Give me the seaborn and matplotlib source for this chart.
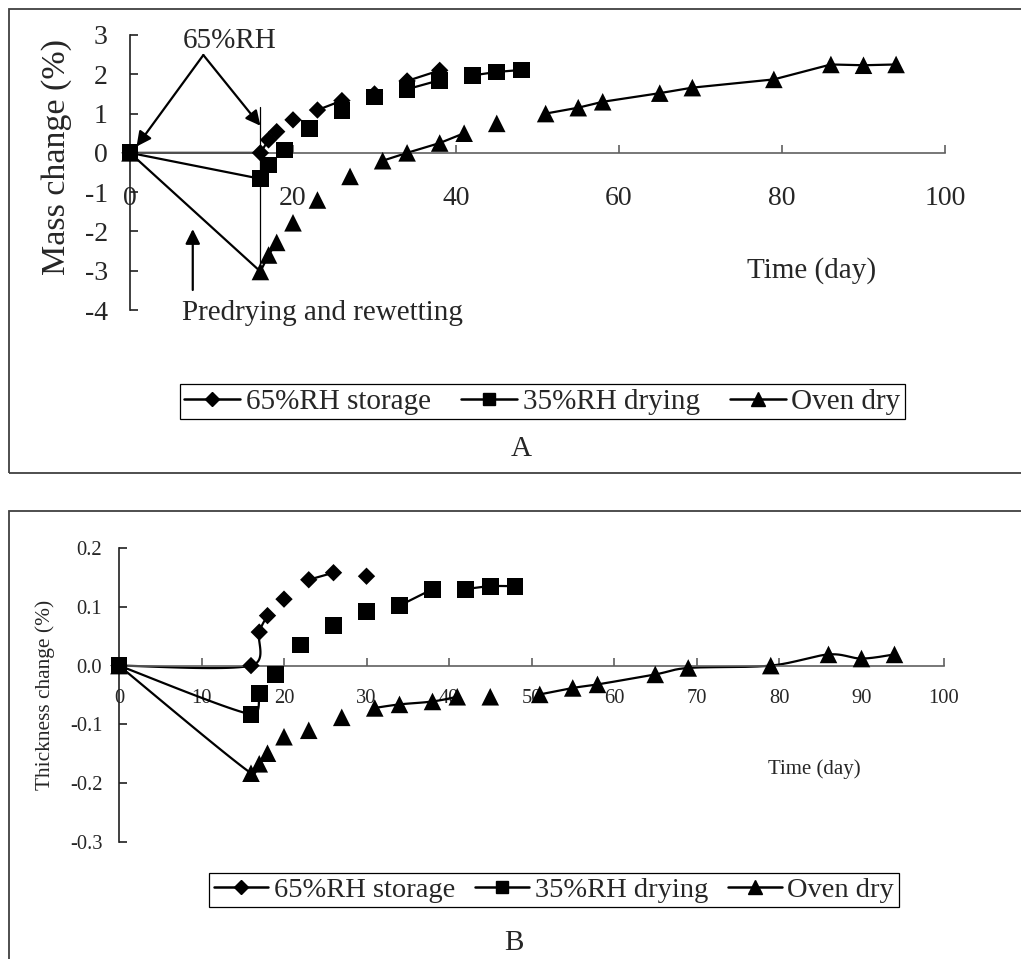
import numpy as np
import pandas as pd
import matplotlib
matplotlib.use('Agg')
import matplotlib.pyplot as plt
from matplotlib.lines import Line2D
from matplotlib.patches import Rectangle
from matplotlib.ticker import FormatStrFormatter
import seaborn as sns

nan = np.nan

# Shared time column (days). Blank cells (nan) break the lines, like in the sheet.
days = [0, 16, 17, 18, 19, 20, 22, 23, 26, 27, 30, 31, 34, 38, 41, 42, 45, 48,
        51, 55, 58, 65, 69, 79, 86, 90, 94]

series_names = ['65%RH storage', '35%RH drying', 'Oven dry']

# A: mass change (%)
mass_65 = [0, 0, 0.33, 0.54, nan, 0.84, nan, 1.09, 1.33, nan, 1.50, nan, 1.83, 2.10,
           nan, nan, nan, nan, nan, nan, nan, nan, nan, nan, nan, nan, nan]
mass_35 = [0, -0.66, -0.31, nan, 0.07, nan, 0.62, nan, 1.08, nan, 1.42, nan, 1.62, 1.85,
           nan, 1.97, 2.06, 2.11, nan, nan, nan, nan, nan, nan, nan, nan, nan]
mass_oven = [0, -3.02, -2.60, -2.28, nan, -1.78, nan, -1.20, nan, -0.60, nan, -0.20, 0.00, 0.25,
             0.50, nan, 0.75, nan, 1.00, 1.15, 1.30, 1.52, 1.66, 1.87, 2.25, 2.23, 2.25]

# B: thickness change (%)
thick_65 = [0, 0, 0.057, 0.085, nan, 0.113, nan, 0.146, 0.158, nan, 0.152, nan, nan, nan,
            nan, nan, nan, nan, nan, nan, nan, nan, nan, nan, nan, nan, nan]
thick_35 = [0, -0.083, -0.048, nan, -0.015, nan, 0.035, nan, 0.068, nan, 0.092, nan, 0.102, 0.130,
            nan, 0.130, 0.135, 0.135, nan, nan, nan, nan, nan, nan, nan, nan, nan]
thick_oven = [0, -0.183, -0.167, -0.149, nan, -0.121, nan, -0.110, nan, -0.088, nan, -0.072, -0.066, -0.061,
              -0.053, nan, -0.053, nan, -0.049, -0.038, -0.032, -0.015, -0.004, 0.000, 0.019, 0.012, 0.019]

markers = dict(zip(series_names, ['D', 's', '^']))
sizes = dict(zip(series_names, [78, 145, 160]))

sns.set_theme(style='white')
plt.rcParams['font.family'] = ['Liberation Serif', 'DejaVu Serif']
plt.rcParams['axes.unicode_minus'] = False

W, H = 1021, 959
fig = plt.figure(figsize=(W / 100, H / 100), dpi=100)


def fx(px):
    return px / W


def fy(py):
    return 1 - py / H


def clamp(v, seg):
    # keep the tangent from overshooting on very short segments
    n = np.hypot(*v)
    lim = 0.5 * np.hypot(*seg)
    return v * (lim / n) if n > lim and n > 0 else v


def smooth_run(xs, ys, sx, sy, n=24):
    # Excel-like smoothed line (Bezier with 1/6 tangents), computed in pixel space
    P = np.column_stack([np.asarray(xs) * sx, np.asarray(ys) * sy])
    out = [P[0]]
    t = np.linspace(0, 1, n)[1:, None]
    for i in range(len(P) - 1):
        p0, p1, p2 = P[max(i - 1, 0)], P[i], P[i + 1]
        p3 = P[min(i + 2, len(P) - 1)]
        c1 = p1 + clamp((p2 - p0) / 6, p2 - p1)
        c2 = p2 - clamp((p3 - p1) / 6, p2 - p1)
        seg = (1 - t) ** 3 * p1 + 3 * (1 - t) ** 2 * t * c1 + 3 * (1 - t) * t ** 2 * c2 + t ** 3 * p2
        out.extend(seg)
    out = np.array(out)
    return out[:, 0] / sx, out[:, 1] / sy


def draw_panel(ax, values, smooth=None):
    for vals in values:
        y = np.array(vals, dtype=float)
        x = np.array(days, dtype=float)
        if smooth is None:
            ax.plot(x, y, color='black', lw=1.6, zorder=2, clip_on=False)
        else:
            ok = ~np.isnan(y)
            idx = np.where(ok)[0]
            runs = np.split(idx, np.where(np.diff(idx) > 1)[0] + 1)
            for r in runs:
                if len(r) > 1:
                    xs, ys = smooth_run(x[r], y[r], *smooth)
                    ax.plot(xs, ys, color='black', lw=1.6, zorder=2, clip_on=False)
    df = pd.DataFrame({'day': days * 3,
                       'series': np.repeat(series_names, len(days)),
                       'value': sum(values, [])}).dropna()
    sns.scatterplot(data=df, x='day', y='value', style='series', size='series',
                    markers=markers, sizes=sizes, color='black', linewidth=0,
                    legend=False, ax=ax, zorder=3, clip_on=False)
    ax.spines['top'].set_visible(False)
    ax.spines['right'].set_visible(False)
    ax.spines['bottom'].set_position(('data', 0))
    ax.spines['bottom'].set_color('#606060')
    ax.spines['left'].set_color('#202020')
    ax.spines['bottom'].set_linewidth(1.2)
    ax.spines['left'].set_linewidth(1.2)
    ax.set_xlabel('')
    ax.set_ylabel('')
    ax.set_xlim(0, 100)


def add_legend(ax, x, y, fs, colsp):
    handles = [Line2D([], [], color='black', lw=1.8, marker=m, markersize=s)
               for m, s in zip(['D', 's', '^'], [7, 9, 9.5])]
    leg = ax.legend(handles, series_names, loc='center', bbox_to_anchor=(x, y),
                    bbox_transform=fig.transFigure, ncol=3, frameon=True, fancybox=False,
                    edgecolor='black', framealpha=1, borderpad=0.15, handlelength=1.9,
                    handletextpad=0.2, columnspacing=colsp, fontsize=fs, borderaxespad=0)
    leg.get_frame().set_linewidth(0.9)


tick_kw = dict(direction='in', length=6, width=1.2, bottom=True, left=True)

# ---------- Panel A ----------
axA = fig.add_axes([fx(130), fy(310), fx(945) - fx(130), fy(35) - fy(310)])
draw_panel(axA, [mass_65, mass_35, mass_oven])
axA.set_ylim(-4, 3)
axA.set_xticks([0, 20, 40, 60, 80, 100])
axA.set_yticks(range(-4, 4))
axA.tick_params(axis='x', color='#606060', pad=24, labelsize=20, **tick_kw)
axA.tick_params(axis='y', color='#202020', pad=16, labelsize=20, **tick_kw)

arrow = dict(arrowstyle='-|>', color='black', lw=1.6, mutation_scale=22, shrinkA=0, shrinkB=0)
axA.annotate('', xy=(0.8, 0.16), xytext=(9.0, 2.49), arrowprops=arrow)
axA.annotate('', xy=(16.0, 0.69), xytext=(9.0, 2.49), arrowprops=arrow)
axA.annotate('', xy=(7.7, -1.94), xytext=(7.7, -3.49), arrowprops=arrow, annotation_clip=False)
axA.plot([16, 16], [1.18, -3.02], color='black', lw=0.9, zorder=1)
axA.text(6.5, 2.66, '65%RH', fontsize=21, ha='left', va='baseline')
axA.text(6.4, -4.25, 'Predrying and rewetting', fontsize=21, ha='left', va='baseline', clip_on=False)
axA.text(75.7, -3.18, 'Time (day)', fontsize=21, ha='left', va='baseline')
fig.text(fx(57), fy(157), 'Mass change (%)', rotation=90, fontsize=24.5, ha='center', va='center')
add_legend(axA, fx(542.5), fy(401.5), 21, 1.05)
fig.text(fx(521), fy(456), 'A', fontsize=21, ha='center', va='baseline')

# ---------- Panel B ----------
axB = fig.add_axes([fx(119), fy(842), fx(944) - fx(119), fy(548) - fy(842)])
draw_panel(axB, [thick_65, thick_35, thick_oven], smooth=(8.25, 588.0))
axB.set_ylim(-0.3, 0.2)
axB.set_xticks(range(0, 101, 10))
axB.set_yticks([-0.3, -0.2, -0.1, 0.0, 0.1, 0.2])
axB.yaxis.set_major_formatter(FormatStrFormatter('%.1f'))
axB.tick_params(axis='x', color='#606060', pad=17, labelsize=14.8, **tick_kw)
axB.tick_params(axis='y', color='#202020', pad=12, labelsize=14.8, **tick_kw)
axB.text(78.7, -0.184, 'Time (day)', fontsize=15, ha='left', va='baseline')
fig.text(fx(45), fy(695), 'Thickness change (%)', rotation=90, fontsize=15.4, ha='center', va='center')
add_legend(axB, fx(554), fy(890), 20.5, 0.7)
fig.text(fx(514), fy(950), 'B', fontsize=21, ha='center', va='baseline')

# outer frames (cut at the right / bottom edge like the source)
fig.add_artist(Rectangle((fx(9), fy(473)), fx(1040) - fx(9), fy(9) - fy(473),
                         transform=fig.transFigure, fill=False, edgecolor='#404040', lw=1.3))
fig.add_artist(Rectangle((fx(9), fy(975)), fx(1040) - fx(9), fy(511) - fy(975),
                         transform=fig.transFigure, fill=False, edgecolor='#404040', lw=1.3))

fig.savefig('out.png', dpi=100)
